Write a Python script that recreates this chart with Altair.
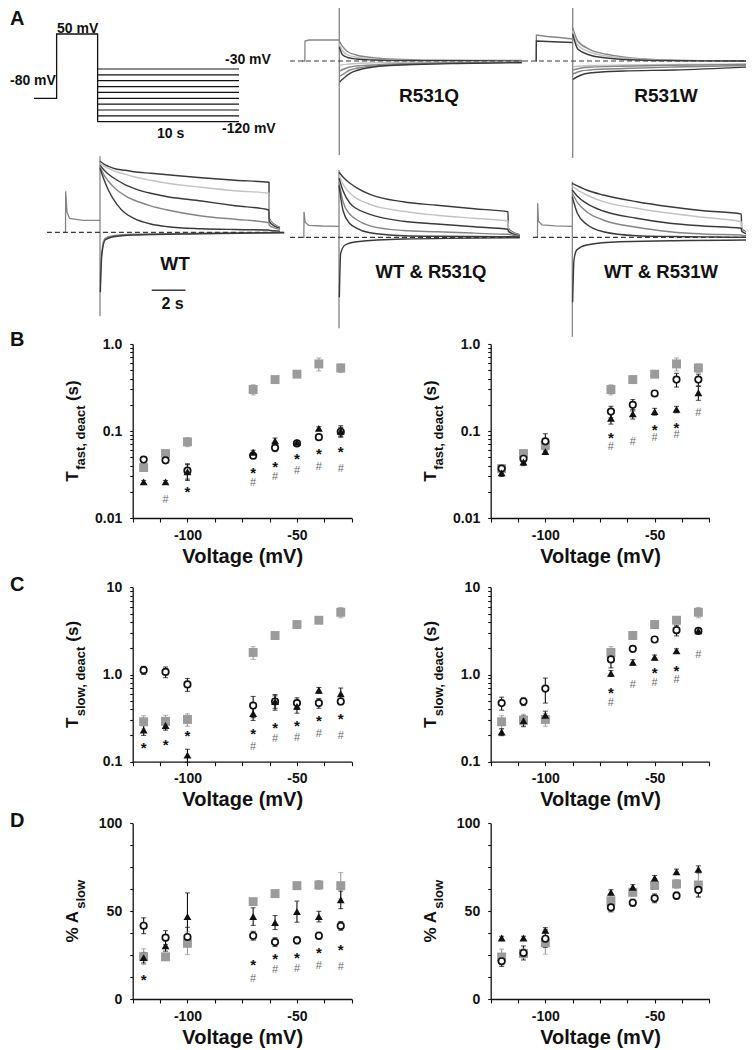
import altair as alt
import pandas as pd

W, H = 738, 1040          # chart = whole figure; page margin 8px
M = 8                      # image coord = chart coord + M
FONT = "Liberation Sans"
BLACK = "#111111"
GRAY = "#9b9b9b"
HASHC = "#6a6a6a"
DARK, MID, LIGHT = "#3a3a3a", "#858585", "#c2c2c2"

# ------------------------------------------------------------------ data B-D
VOLT = [-120, -110, -100, -70, -60, -50, -40, -30]

# tau fast (s) - R531Q set (left)
TF_Q_WT = [0.038, 0.055, 0.075, 0.30, 0.39, 0.45, 0.59, 0.53]
TF_Q_WT_E = [0.003, 0.004, 0.009, 0.04, 0.02, 0.025, 0.10, 0.06]
TF_Q_MUT = [0.047, 0.046, 0.035, 0.052, 0.064, 0.072, 0.085, 0.098]
TF_Q_MUT_E = [0.003, 0.003, 0.007, 0.003, 0.006, 0.003, 0.004, 0.012]
TF_Q_CO = [0.026, 0.026, 0.034, 0.057, 0.077, 0.074, 0.107, 0.100]
TF_Q_CO_E = [0.001, 0.001, 0.007, 0.003, 0.006, 0.003, 0.005, 0.015]
TF_Q_STAR_V = [-100, -70, -60, -50, -40, -30]
TF_Q_STAR = [0.022, 0.036, 0.042, 0.052, 0.059, 0.063]
TF_Q_HASH_V = [-110, -70, -60, -50, -40, -30]
TF_Q_HASH = [0.0164, 0.026, 0.030, 0.036, 0.040, 0.038]

# tau fast (s) - R531W set (right)
TF_W_WT = [0.037, 0.055, 0.068, 0.30, 0.39, 0.45, 0.59, 0.53]
TF_W_WT_E = [0.003, 0.004, 0.005, 0.04, 0.02, 0.025, 0.10, 0.06]
TF_W_MUT = [0.037, 0.048, 0.076, 0.167, 0.20, 0.27, 0.39, 0.39]
TF_W_MUT_E = [0.003, 0.004, 0.017, 0.025, 0.03, 0.02, 0.07, 0.06]
TF_W_CO = [0.033, 0.044, 0.058, 0.14, 0.157, 0.167, 0.177, 0.275]
TF_W_CO_E = [0.003, 0.004, 0.004, 0.02, 0.02, 0.015, 0.015, 0.05]
TF_W_STAR_V = [-70, -50, -40]
TF_W_STAR = [0.092, 0.114, 0.12]
TF_W_HASH_V = [-70, -60, -50, -40, -30]
TF_W_HASH = [0.067, 0.077, 0.086, 0.092, 0.167]

# tau slow (s)
TS_Q_WT = [0.287, 0.29, 0.305, 1.79, 2.8, 3.74, 4.19, 5.17]
TS_Q_WT_E = [0.05, 0.05, 0.05, 0.3, 0.15, 0.25, 0.35, 0.7]
TS_Q_MUT = [1.12, 1.07, 0.77, 0.44, 0.49, 0.47, 0.47, 0.49]
TS_Q_MUT_E = [0.12, 0.15, 0.13, 0.12, 0.08, 0.07, 0.06, 0.04]
TS_Q_CO = [0.23, 0.26, 0.119, 0.357, 0.49, 0.43, 0.66, 0.60]
TS_Q_CO_E = [0.03, 0.03, 0.02, 0.06, 0.10, 0.07, 0.05, 0.10]
TS_Q_STAR_V = [-120, -110, -100, -70, -60, -50, -40, -30]
TS_Q_STAR = [0.158, 0.17, 0.215, 0.23, 0.27, 0.28, 0.32, 0.34]
TS_Q_HASH_V = [-70, -60, -50, -40, -30]
TS_Q_HASH = [0.153, 0.185, 0.193, 0.215, 0.205]

TS_W_WT = [0.287, 0.30, 0.305, 1.79, 2.8, 3.74, 4.19, 5.17]
TS_W_WT_E = [0.05, 0.05, 0.05, 0.3, 0.2, 0.25, 0.35, 0.7]
TS_W_MUT = [0.47, 0.49, 0.69, 1.49, 1.97, 2.52, 3.22, 3.16]
TS_W_MUT_E = [0.08, 0.05, 0.22, 0.3, 0.15, 0.15, 0.45, 0.2]
TS_W_CO = [0.219, 0.295, 0.34, 1.03, 1.38, 1.57, 1.87, 3.16]
TS_W_CO_E = [0.02, 0.04, 0.04, 0.08, 0.10, 0.10, 0.10, 0.15]
TS_W_STAR_V = [-70, -50, -40]
TS_W_STAR = [0.67, 1.14, 1.2]
TS_W_HASH_V = [-70, -60, -50, -40, -30]
TS_W_HASH = [0.49, 0.77, 0.81, 0.88, 1.71]

# % A slow
AS_Q_WT = [24.1, 24.0, 31.7, 55.4, 60.0, 64.5, 64.9, 64.5]
AS_Q_WT_E = [4.5, 1.5, 6.5, 1.5, 1.5, 2.0, 2.5, 7.5]
AS_Q_MUT = [41.7, 34.9, 35.3, 36.0, 32.4, 33.4, 36.0, 41.6]
AS_Q_MUT_E = [4.5, 4.0, 5.5, 2.5, 2.5, 2.0, 2.0, 2.5]
AS_Q_CO = [23.5, 30.2, 46.9, 46.9, 43.5, 49.7, 46.9, 56.4]
AS_Q_CO_E = [3.0, 3.0, 13.5, 5.0, 4.0, 6.0, 3.0, 5.0]
AS_Q_STAR_V = [-120, -70, -60, -50, -40, -30]
AS_Q_STAR = [12.7, 21.3, 24.7, 25.6, 27.9, 29.8]
AS_Q_HASH_V = [-70, -60, -50, -40, -30]
AS_Q_HASH = [12.1, 16.9, 17.5, 19.4, 19.0]

AS_W_WT = [23.9, 25.9, 32.0, 55.9, 60.7, 64.6, 65.5, 64.9]
AS_W_WT_E = [4.5, 3.0, 6.5, 2.0, 2.0, 2.0, 2.5, 7.0]
AS_W_MUT = [21.5, 26.2, 34.3, 52.1, 54.8, 57.3, 58.8, 62.1]
AS_W_MUT_E = [3.0, 4.0, 5.0, 2.5, 2.0, 2.5, 2.0, 4.0]
AS_W_CO = [34.7, 34.7, 39.1, 60.7, 63.6, 68.8, 72.4, 73.8]
AS_W_CO_E = [1.0, 1.0, 1.5, 1.5, 1.5, 1.5, 1.5, 2.0]

# ------------------------------------------------------------------ data A
# voltage protocol (schematic)
PROTO_T = [0, 1.6, 1.6, 4.5, 4.5]
PROTO_V = [-80, -80, 50, 50, -120]
STEP_V = [-30, -40, -50, -60, -70, -80, -90, -100, -110, -120]
STEP_T0, STEP_T1 = 4.5, 14.5

# WT traces (time s from step onset, current in arbitrary units)
WT_PRE_T = [-2.15, -2.04, -2.03, -1.95, -1.8, -1.0, 0]
WT_PRE_I = [0, 0, 4.1, 2.0, 1.4, 1.2, 1.2]
WT_SPIKE = [7.6, -8.4]
WT_T = [0, 0.25, 0.5, 1, 1.5, 2, 3, 4, 6, 8, 10, 10.01, 10.3, 10.65]
WT_I1 = [7.1, 6.8, 6.6, 6.3, 6.2, 6.05, 5.9, 5.75, 5.45, 5.2, 5.0, 1.4, 0.8, 0.5]
WT_I2 = [6.9, 6.6, 6.4, 6.05, 5.8, 5.55, 5.2, 4.9, 4.5, 4.15, 3.9, 1.3, 0.75, 0.45]
WT_I3 = [6.7, 6.2, 5.8, 5.23, 4.75, 4.4, 3.9, 3.56, 3.13, 2.66, 2.23, 1.1, 0.65, 0.4]
WT_I4 = [6.55, 5.7, 5.1, 4.23, 3.65, 3.23, 2.65, 2.23, 1.63, 1.3, 0.96, 0.7, 0.45, 0.3]
WT_I5 = [6.4, 5.2, 4.2, 2.8, 1.9, 1.4, 0.83, 0.56, 0.36, 0.28, 0.23, 0.2, 0.15, 0.1]
WT_TN = [0.02, 0.1, 0.3, 0.8, 2, 6, 10.9]
WT_N1 = [-6.0, -2.44, -0.77, -0.44, -0.27, -0.14, -0.04]
WT_N2 = [-5.0, -2.0, -0.6, -0.35, -0.2, -0.1, -0.02]
WT_BASE = [-3.14, 10.95]
SCALEBAR_T = [3.06, 5.06]
SCALEBAR_I = -5.8

# R531Q
Q_PRE_T = [-2.2, -2.04, -2.03, -1.8, -1.0, 0]
Q_PRE_I = [0, 0, 2.0, 2.1, 2.1, 2.1]
Q_SPIKE = [5.9, -9.4]
Q_T = [0, 0.2, 0.5, 1, 2, 3, 5, 8, 10.8]
Q_P1 = [2.0, 1.43, 0.93, 0.6, 0.33, 0.2, 0.1, 0.06, 0.05]
Q_P2 = [1.7, 1.0, 0.6, 0.38, 0.2, 0.12, 0.07, 0.04, 0.03]
Q_P3 = [1.4, 0.6, 0.35, 0.2, 0.1, 0.06, 0.04, 0.02, 0.0]
Q_TN = [0.02, 0.14, 0.63, 1.03, 2, 3, 5, 7, 10.8]
Q_N1 = [-0.5, -0.4, -0.3, -0.25, -0.18, -0.15, -0.1, -0.08, -0.05]
Q_N2 = [-1.0, -0.9, -0.6, -0.5, -0.4, -0.3, -0.23, -0.18, -0.13]
Q_N3 = [-1.5, -1.4, -0.9, -0.73, -0.5, -0.4, -0.28, -0.2, -0.13]
Q_N4 = [-2.1, -1.9, -1.23, -0.95, -0.6, -0.45, -0.33, -0.25, -0.17]
Q_BASE = [-2.92, 10.87]

# R531W
W_PRE_T = [-2.17, -2.16, -2.15, -1.5, -0.8, 0]
W_PRE1 = [0, 0, 2.6, 2.45, 2.35, 2.2]
W_PRE2 = [0, 0, 2.0, 1.95, 1.9, 1.85]
W_SPIKE = [5.3, -9.7]
W_T = [0, 0.3, 1, 2, 3, 5, 8, 10.4]
W_P1 = [3.3, 2.0, 1.17, 0.67, 0.4, 0.13, 0.03, 0.0]
W_P2 = [3.0, 1.6, 0.9, 0.5, 0.3, 0.1, 0.02, 0.0]
W_P3 = [2.7, 1.2, 0.6, 0.3, 0.15, 0.05, 0.01, 0.0]
W_TN = [0.02, 0.5, 1, 3, 6, 10.4]
W_N1 = [-0.57, -0.5, -0.45, -0.4, -0.35, -0.3]
W_N2 = [-0.9, -0.7, -0.62, -0.52, -0.42, -0.35]
W_N3 = [-1.3, -1.0, -0.9, -0.75, -0.6, -0.45]
W_N4 = [-1.83, -1.4, -1.2, -1.0, -0.9, -0.6]
W_BASE = [-2.94, 10.66]

# WT & R531Q
WQ_PRE_T = [-2.2, -2.08, -2.07, -2.0, -1.8, -1.0, 0]
WQ_PRE_I = [0, 0, 2.56, 1.5, 1.2, 1.13, 1.1]
WQ_SPIKE = [6.73, -9.1]
WQ_T = [0, 0.25, 0.65, 1, 1.83, 3.8, 5.8, 8, 10, 10.02, 10.3, 10.7]
WQ_I1 = [6.5, 6.0, 5.4, 5.0, 4.3, 3.55, 3.2, 2.85, 2.55, 0.9, 0.5, 0.25]
WQ_I2 = [6.2, 5.3, 4.4, 3.95, 3.3, 2.6, 2.2, 1.9, 1.63, 0.8, 0.45, 0.2]
WQ_I3 = [5.9, 4.6, 3.4, 2.9, 2.3, 1.6, 1.33, 1.05, 0.8, 0.6, 0.35, 0.15]
WQ_I4 = [5.5, 3.5, 2.3, 1.8, 1.15, 0.68, 0.55, 0.42, 0.3, 0.3, 0.2, 0.1]
WQ_I5 = [5.2, 2.6, 1.35, 0.95, 0.45, 0.16, 0.1, 0.08, 0.06, 0.06, 0.05, 0.03]
WQ_TN = [0.02, 0.1, 0.36, 1.05, 3.8, 10.7]
WQ_N1 = [-6.0, -1.6, -0.77, -0.44, -0.17, -0.05]
WQ_BASE = [-2.9, 10.7]

# WT & R531W
WW_PRE_T = [-2.2, -2.06, -2.05, -2.0, -1.8, -1.0, 0]
WW_PRE_I = [0, 0, 3.4, 1.6, 1.25, 1.15, 1.1]
WW_SPIKE = [5.56, -9.94]
WW_T = [0, 0.3, 0.85, 1.83, 3.81, 5.78, 7.75, 10, 10.02, 10.3, 10.6]
WW_I1 = [5.4, 5.15, 4.73, 4.23, 3.56, 3.06, 2.66, 2.33, 0.9, 0.5, 0.3]
WW_I2 = [5.06, 4.75, 4.23, 3.56, 2.9, 2.4, 2.0, 1.56, 0.8, 0.45, 0.25]
WW_I3 = [4.73, 4.1, 3.4, 2.63, 1.9, 1.4, 1.13, 0.9, 0.6, 0.35, 0.2]
WW_I4 = [4.4, 3.5, 2.56, 1.73, 1.0, 0.56, 0.33, 0.23, 0.2, 0.15, 0.1]
WW_I5 = [4.06, 2.4, 1.3, 0.56, 0.16, 0.08, 0.04, 0.0, 0.0, 0.0, 0.0]
WW_TN = [0.02, 0.1, 0.26, 0.85, 2.82, 10.6]
WW_N1 = [-6.5, -2.27, -1.27, -0.77, -0.44, -0.27]
WW_BASE = [-2.33, 10.66]

ONE = pd.DataFrame({"k": [0]})

# ------------------------------------------------------------------ helpers
def label(txt, x, y, size, align="left", baseline="alphabetic", angle=0,
          color=BLACK, weight="bold"):
    return alt.Chart(ONE).mark_text(
        text=txt, font=FONT, fontSize=size, fontWeight=weight, align=align,
        baseline=baseline, angle=angle, color=color
    ).encode(x=alt.value(x - M), y=alt.value(y - M))


def ytitle(main, sub, suffix, main_w, sub_w, suf_w, xb, yc):
    total = main_w + 1.5 + sub_w + (4.5 + suf_w if suffix else 0)
    y0 = yc + total / 2
    parts = [label(main, xb, y0, 17, angle=270),
             label(sub, xb + 7, y0 - main_w - 1.5, 13, angle=270)]
    if suffix:
        parts.append(label(suffix, xb, y0 - main_w - 1.5 - sub_w - 4.5, 17, angle=270))
    return parts


XTICKS = [-125 + 12.5 * i for i in range(9)]


def x_axis(yb):
    return alt.Axis(orient="bottom", offset=(yb - M) - H, values=XTICKS,
                    labelExpr="datum.value == -100 ? '-100' : datum.value == -50 ? '-50' : ''",
                    tickSize=4, labelPadding=6, labelFontSize=14, labelOverlap=False,
                    labelFlush=False,
                    title="Voltage (mV)", titleFontSize=20, titlePadding=4,
                    domainWidth=1.3, tickWidth=1.1, grid=False)


def y_axis(xl, values, expr):
    return alt.Axis(orient="left", offset=-(xl - M), values=values, labelExpr=expr,
                    tickSize=3, labelPadding=8, labelFontSize=14, labelOverlap=False,
                    title=None, domainWidth=1.3, tickWidth=1.1, grid=False)


def logvals(lo_exp, hi_exp):
    out = []
    for e in range(lo_exp, hi_exp):
        for m in range(1, 10):
            out.append(float(f"{m}e{e}"))
    out.append(float(f"1e{hi_exp}"))
    return out


def scatter_panel(xl, xr, ys, xaxis, yaxis, series, star_v, star, hash_v, hashes):
    xsc = alt.Scale(domain=[-125, -25], range=[xl - M, xr - M], nice=False, zero=False)
    rows = []
    for name, vals, errs in series:
        for v, y, e in zip(VOLT, vals, errs):
            rows.append({"V": v, "val": y, "lo": y - e, "hi": y + e, "grp": name})
    df = pd.DataFrame(rows)
    base = alt.Chart(df)
    X = alt.X("V:Q", scale=xsc, axis=xaxis)

    def Y(field):
        return alt.Y(field, type="quantitative", scale=ys, axis=yaxis)

    ecol = alt.Color("grp:N", scale=alt.Scale(domain=["wt", "mut", "co"],
                                               range=[GRAY, BLACK, BLACK]), legend=None)
    layers = [
        base.mark_rule(strokeWidth=1.1).encode(x=X, y=Y("lo"), y2="hi:Q", color=ecol),
        base.mark_tick(orient="horizontal", size=5, thickness=1.1).encode(
            x=X, y=Y("lo"), color=ecol),
        base.mark_tick(orient="horizontal", size=5, thickness=1.1).encode(
            x=X, y=Y("hi"), color=ecol),
        base.transform_filter("datum.grp == 'wt'").mark_square(
            size=80, color=GRAY, opacity=1).encode(x=X, y=Y("val")),
        base.transform_filter("datum.grp == 'mut'").mark_point(
            shape="circle", size=42, filled=True, fill="white", stroke=BLACK,
            strokeWidth=1.7, opacity=1).encode(x=X, y=Y("val")),
        base.transform_filter("datum.grp == 'co'").mark_point(
            shape="triangle-up", size=62, filled=True, color=BLACK, opacity=1).encode(
            x=X, y=Y("val")),
    ]
    if star_v:
        sdf = pd.DataFrame({"V": star_v, "val": star})
        layers.append(alt.Chart(sdf).mark_text(
            text="*", font=FONT, fontSize=15, fontWeight="bold", color=BLACK,
            baseline="alphabetic", dy=8.5).encode(x=X, y=Y("val")))
    if hash_v:
        hdf = pd.DataFrame({"V": hash_v, "val": hashes})
        layers.append(alt.Chart(hdf).mark_text(
            text="#", font=FONT, fontSize=11, color=HASHC,
            baseline="alphabetic", dy=4).encode(x=X, y=Y("val")))
    return alt.layer(*layers)


PX_S = 16.9   # px per second in the trace panels
PX_I = 10.0   # px per current unit


def frame(series):
    rows = []
    for k, (t, i, shade) in enumerate(series):
        for j, (tt, ii) in enumerate(zip(t, i)):
            rows.append({"trace": k, "shade": shade, "t": tt, "I": ii, "ord": j})
    return pd.DataFrame(rows)


def trace_panel(x0, y0, base, smooth, straight):
    xsc = alt.Scale(domain=[-3.5, 11.5],
                    range=[x0 - M - 3.5 * PX_S, x0 - M + 11.5 * PX_S], nice=False, zero=False)
    ysc = alt.Scale(domain=[-12, 9],
                    range=[y0 - M + 12 * PX_I, y0 - M - 9 * PX_I], nice=False, zero=False)
    X = alt.X("t:Q", scale=xsc, axis=None)
    Y = alt.Y("I:Q", scale=ysc, axis=None)
    col = alt.Color("shade:N", scale=alt.Scale(domain=["dark", "mid", "light"],
                                                range=[DARK, MID, LIGHT]), legend=None)
    l1 = alt.Chart(frame(straight)).mark_line(strokeWidth=1.3).encode(
        x=X, y=Y, detail="trace:N", order="ord:Q", color=col)
    l2 = alt.Chart(frame(smooth)).mark_line(strokeWidth=1.4, interpolate="monotone").encode(
        x=X, y=Y, detail="trace:N", order="ord:Q", color=col)
    bl = alt.Chart(pd.DataFrame({"t0": [base[0]], "t1": [base[1]], "I": [0]})).mark_rule(
        strokeDash=[5, 3], color="#3a3a3a", strokeWidth=1.2).encode(
        x=alt.X("t0:Q", scale=xsc, axis=None), x2="t1:Q",
        y=alt.Y("I:Q", scale=ysc, axis=None))
    return alt.layer(l1, l2, bl), xsc, ysc


layers = []

# ------------------------------------------------------------------ panel A
pxs = alt.Scale(domain=[0, 14.5], range=[34 - M, 239 - M], nice=False, zero=False)
pys = alt.Scale(type="linear", domain=[-120, -30, 50],
                range=[121.7 - M, 69 - M, 34 - M], nice=False, zero=False)
proto = alt.Chart(pd.DataFrame({"t": PROTO_T, "v": PROTO_V, "o": list(range(len(PROTO_T)))})
                  ).mark_line(color=BLACK, strokeWidth=1.3).encode(
    x=alt.X("t:Q", scale=pxs, axis=None), y=alt.Y("v:Q", scale=pys, axis=None), order="o:Q")
steps = alt.Chart(pd.DataFrame({"v": STEP_V, "t0": [STEP_T0] * len(STEP_V),
                                "t1": [STEP_T1] * len(STEP_V)})).mark_rule(
    color=BLACK, strokeWidth=1.2).encode(
    x=alt.X("t0:Q", scale=pxs, axis=None), x2="t1:Q", y=alt.Y("v:Q", scale=pys, axis=None))
layers.append(alt.layer(proto, steps))

wt_layer, wt_xs, wt_ys = trace_panel(
    100, 232.3, WT_BASE,
    [(WT_T, WT_I1, "dark"), (WT_T, WT_I2, "light"), (WT_T, WT_I3, "dark"),
     (WT_T, WT_I4, "mid"), (WT_T, WT_I5, "dark"),
     (WT_TN, WT_N2, "mid"), (WT_TN, WT_N1, "dark")],
    [(WT_PRE_T, WT_PRE_I, "mid"), ([0, 0], WT_SPIKE, "mid")])
bar = alt.Chart(pd.DataFrame({"t0": [SCALEBAR_T[0]], "t1": [SCALEBAR_T[1]], "I": [SCALEBAR_I]})
                ).mark_rule(color=DARK, strokeWidth=1.6).encode(
    x=alt.X("t0:Q", scale=wt_xs, axis=None), x2="t1:Q", y=alt.Y("I:Q", scale=wt_ys, axis=None))
layers.append(alt.layer(wt_layer, bar))

q_layer, _, _ = trace_panel(
    339.3, 61, Q_BASE,
    [(Q_T, Q_P1, "mid"), (Q_T, Q_P2, "light"), (Q_T, Q_P3, "dark"),
     (Q_TN, Q_N1, "light"), (Q_TN, Q_N2, "mid"), (Q_TN, Q_N3, "mid"), (Q_TN, Q_N4, "dark")],
    [(Q_PRE_T, Q_PRE_I, "mid"), ([0, 0], Q_SPIKE, "mid")])
layers.append(q_layer)

w_layer, _, _ = trace_panel(
    572.7, 61, W_BASE,
    [(W_T, W_P1, "mid"), (W_T, W_P2, "light"), (W_T, W_P3, "dark"),
     (W_TN, W_N1, "light"), (W_TN, W_N2, "mid"), (W_TN, W_N3, "mid"), (W_TN, W_N4, "dark")],
    [(W_PRE_T, W_PRE1, "mid"), (W_PRE_T, W_PRE2, "dark"), ([0, 0], W_SPIKE, "mid")])
layers.append(w_layer)

wq_layer, _, _ = trace_panel(
    339, 237.3, WQ_BASE,
    [(WQ_T, WQ_I1, "dark"), (WQ_T, WQ_I2, "light"), (WQ_T, WQ_I3, "dark"),
     (WQ_T, WQ_I4, "mid"), (WQ_T, WQ_I5, "dark"), (WQ_TN, WQ_N1, "dark")],
    [(WQ_PRE_T, WQ_PRE_I, "mid"), ([0, 0], WQ_SPIKE, "mid")])
layers.append(wq_layer)

ww_layer, _, _ = trace_panel(
    572.3, 237.3, WW_BASE,
    [(WW_T, WW_I1, "dark"), (WW_T, WW_I2, "light"), (WW_T, WW_I3, "dark"),
     (WW_T, WW_I4, "mid"), (WW_T, WW_I5, "dark"), (WW_TN, WW_N1, "dark")],
    [(WW_PRE_T, WW_PRE_I, "mid"), ([0, 0], WW_SPIKE, "mid")])
layers.append(ww_layer)

# text of panel A (nothing can sit left of / above the page margin)
layers += [
    label("A", 10, 25, 20),
    label("50 mV", 57, 33, 14), label("-80 mV", 10, 85, 14),
    label("-30 mV", 225, 64, 14), label("-120 mV", 222, 133, 14),
    label("10 s", 157, 138, 14),
    label("R531Q", 429, 101.7, 19, align="center"),
    label("R531W", 666, 101.7, 19, align="center"),
    label("WT", 175, 270, 19, align="center"),
    label("2 s", 172.5, 309, 16, align="center"),
    label("WT & R531Q", 431, 278.3, 18.5, align="center"),
    label("WT & R531W", 661, 278.3, 18.5, align="center"),
]

# ------------------------------------------------------------------ panels B-D
LX = (132.7, 351.7)
RX = (490.7, 709.3)
B_Y = (518.0, 344.0)
C_Y = (761.7, 587.3)
D_Y = (999.0, 823.3)

LOG_B = logvals(-2, 0)
LOG_C = logvals(-1, 1)
EXPR_B = "datum.value == 1 ? '1.0' : datum.value == 0.1 ? '0.1' : datum.value == 0.01 ? '0.01' : ''"
EXPR_C = "datum.value == 10 ? '10' : datum.value == 1 ? '1.0' : datum.value == 0.1 ? '0.1' : ''"
D_VALS = [12.5 * i for i in range(9)]
EXPR_D = "datum.value % 50 == 0 ? '' + datum.value : ''"

panels = [
    (LX, B_Y, "log", [0.01, 1], LOG_B, EXPR_B,
     [("wt", TF_Q_WT, TF_Q_WT_E), ("mut", TF_Q_MUT, TF_Q_MUT_E), ("co", TF_Q_CO, TF_Q_CO_E)],
     TF_Q_STAR_V, TF_Q_STAR, TF_Q_HASH_V, TF_Q_HASH),
    (RX, B_Y, "log", [0.01, 1], LOG_B, EXPR_B,
     [("wt", TF_W_WT, TF_W_WT_E), ("mut", TF_W_MUT, TF_W_MUT_E), ("co", TF_W_CO, TF_W_CO_E)],
     TF_W_STAR_V, TF_W_STAR, TF_W_HASH_V, TF_W_HASH),
    (LX, C_Y, "log", [0.1, 10], LOG_C, EXPR_C,
     [("wt", TS_Q_WT, TS_Q_WT_E), ("mut", TS_Q_MUT, TS_Q_MUT_E), ("co", TS_Q_CO, TS_Q_CO_E)],
     TS_Q_STAR_V, TS_Q_STAR, TS_Q_HASH_V, TS_Q_HASH),
    (RX, C_Y, "log", [0.1, 10], LOG_C, EXPR_C,
     [("wt", TS_W_WT, TS_W_WT_E), ("mut", TS_W_MUT, TS_W_MUT_E), ("co", TS_W_CO, TS_W_CO_E)],
     TS_W_STAR_V, TS_W_STAR, TS_W_HASH_V, TS_W_HASH),
    (LX, D_Y, "linear", [0, 100], D_VALS, EXPR_D,
     [("wt", AS_Q_WT, AS_Q_WT_E), ("mut", AS_Q_MUT, AS_Q_MUT_E), ("co", AS_Q_CO, AS_Q_CO_E)],
     AS_Q_STAR_V, AS_Q_STAR, AS_Q_HASH_V, AS_Q_HASH),
    (RX, D_Y, "linear", [0, 100], D_VALS, EXPR_D,
     [("wt", AS_W_WT, AS_W_WT_E), ("mut", AS_W_MUT, AS_W_MUT_E), ("co", AS_W_CO, AS_W_CO_E)],
     [], [], [], []),
]

for (xr, yr, stype, dom, vals, expr, series, sv, s, hv, h) in panels:
    ys = alt.Scale(type=stype, domain=dom, range=[yr[0] - M, yr[1] - M], nice=False, zero=False)
    layers.append(scatter_panel(xr[0], xr[1], ys, x_axis(yr[0]),
                                y_axis(xr[0], vals, expr), series, sv, s, hv, h))

# panel letters and y titles
layers += [label("B", 10, 346, 20), label("C", 10, 591, 20), label("D", 10, 827, 20)]
for dx in (0, 358):
    layers += ytitle("T", "fast, deact", "(s)", 0.611 * 17, 4.946 * 13, 1.222 * 17,
                     78 + dx, (B_Y[0] + B_Y[1]) / 2)
    layers += ytitle("T", "slow, deact", "(s)", 0.611 * 17, 5.391 * 13, 1.222 * 17,
                     78 + dx, (C_Y[0] + C_Y[1]) / 2)
    layers += ytitle("% A", "slow", "", 1.889 * 17, 2.223 * 13, 0,
                     78 + dx, (D_Y[0] + D_Y[1]) / 2)

chart = alt.layer(*layers).resolve_scale(
    x="independent", y="independent", color="independent"
).properties(
    width=W, height=H, padding=0, autosize=alt.AutoSizeParams(type="none")
).configure_view(stroke=None).configure_axis(
    labelFont=FONT, titleFont=FONT, labelFontWeight="bold", titleFontWeight="bold",
    labelColor=BLACK, titleColor=BLACK, domainColor=BLACK, tickColor=BLACK
)

chart.save("out.html", embed_options={"renderer": "svg", "actions": False})
